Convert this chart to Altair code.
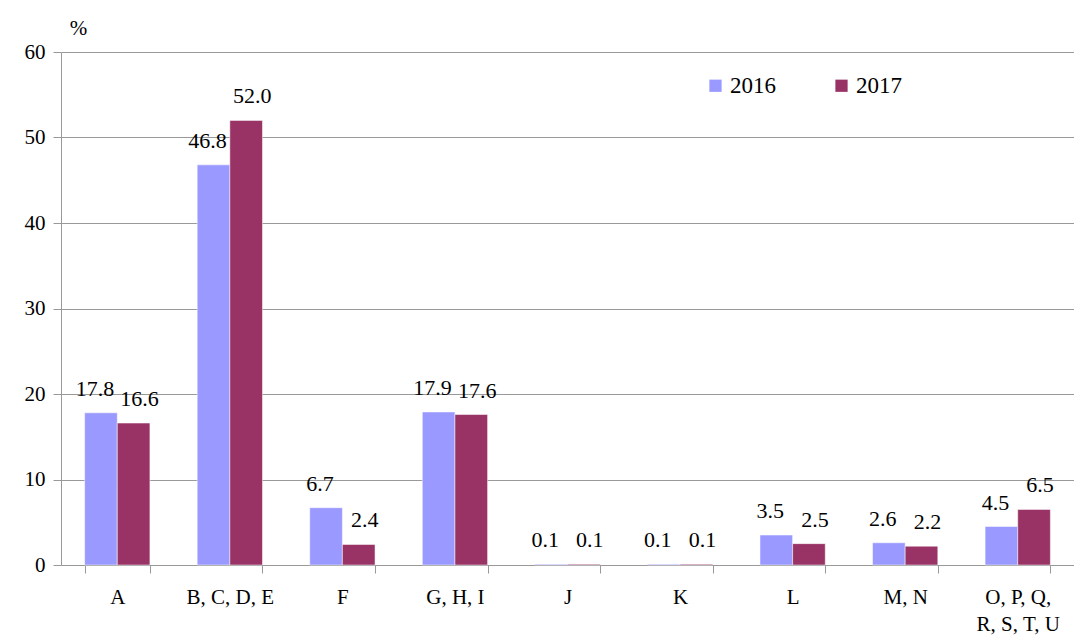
import altair as alt
import pandas as pd

categories = ["A", "B, C, D, E", "F", "G, H, I", "J", "K", "L", "M, N", "O, P, Q, R, S, T, U"]
v2016 = [17.8, 46.8, 6.7, 17.9, 0.1, 0.1, 3.5, 2.6, 4.5]
v2017 = [16.6, 52.0, 2.4, 17.6, 0.1, 0.1, 2.5, 2.2, 6.5]
years = ["2016", "2017"]
colors = ["#9999FF", "#993366"]

rows = []
for c, a, b in zip(categories, v2016, v2017):
    rows.append({"cat": c, "year": "2016", "val": a, "lab": f"{a:.1f}"})
    rows.append({"cat": c, "year": "2017", "val": b, "lab": f"{b:.1f}"})
df = pd.DataFrame(rows)

FONT = "'Liberation Serif', 'Times New Roman', Times, serif"

x = alt.X("cat:N", sort=categories, title=None,
          scale=alt.Scale(paddingInner=0.42, paddingOuter=0.21),
          axis=alt.Axis(labelAngle=0, labelFontSize=21, labelFont=FONT, labelColor="black",
                        labelPadding=13, tickBand="extent", tickSize=8, tickColor="#999999",
                        domainColor="#999999", labelLineHeight=27,
                        labelExpr="datum.value == 'O, P, Q, R, S, T, U' ? ['O, P, Q,', 'R, S, T, U'] : datum.value"))
y = alt.Y("val:Q", scale=alt.Scale(domain=[0, 60]),
          axis=alt.Axis(values=[0, 10, 20, 30, 40, 50, 60], labelFontSize=21, labelFont=FONT,
                        labelColor="black", labelPadding=8, tickSize=8, tickColor="#999999",
                        domainColor="#999999", gridColor="#999999", title="%", titleAngle=0,
                        titleFont=FONT, titleFontSize=21, titleFontWeight="normal",
                        titleAlign="center", titleX=17, titleY=-14, titleColor="black"))
xo = alt.XOffset("year:N", sort=years, scale=alt.Scale(paddingInner=0, paddingOuter=0))
color = alt.Color("year:N", sort=years, scale=alt.Scale(domain=years, range=colors),
                  legend=alt.Legend(title=None, orient="none", legendX=643, legendY=22,
                                    direction="horizontal", symbolType="square", symbolSize=150,
                                    symbolStrokeWidth=0, labelFont=FONT, labelFontSize=23,
                                    labelColor="black", columnPadding=54, labelOffset=3))

bars = alt.Chart(df).mark_bar(stroke="white", strokeWidth=0.5).encode(x=x, xOffset=xo, y=y, color=color)
lab16 = alt.Chart(df).transform_filter("datum.year == '2016'").mark_text(
    baseline="bottom", dy=-12, dx=-6, font=FONT, fontSize=22, color="black").encode(
    x=x, xOffset=xo, y=y, text="lab:N")
lab17 = alt.Chart(df).transform_filter("datum.year == '2017'").mark_text(
    baseline="bottom", dy=-12, dx=6, font=FONT, fontSize=22, color="black").encode(
    x=x, xOffset=xo, y=y, text="lab:N")

chart = (bars + lab16 + lab17).properties(
    width=1013, height=513,
    autosize=alt.AutoSizeParams(type="none"),
    padding={"left": 53, "top": 44, "right": 0, "bottom": 72},
).configure_view(stroke=None).configure_axisY(grid=True).configure_axisX(grid=False)

chart.save("out.html", embed_options={"renderer": "svg", "actions": False})
